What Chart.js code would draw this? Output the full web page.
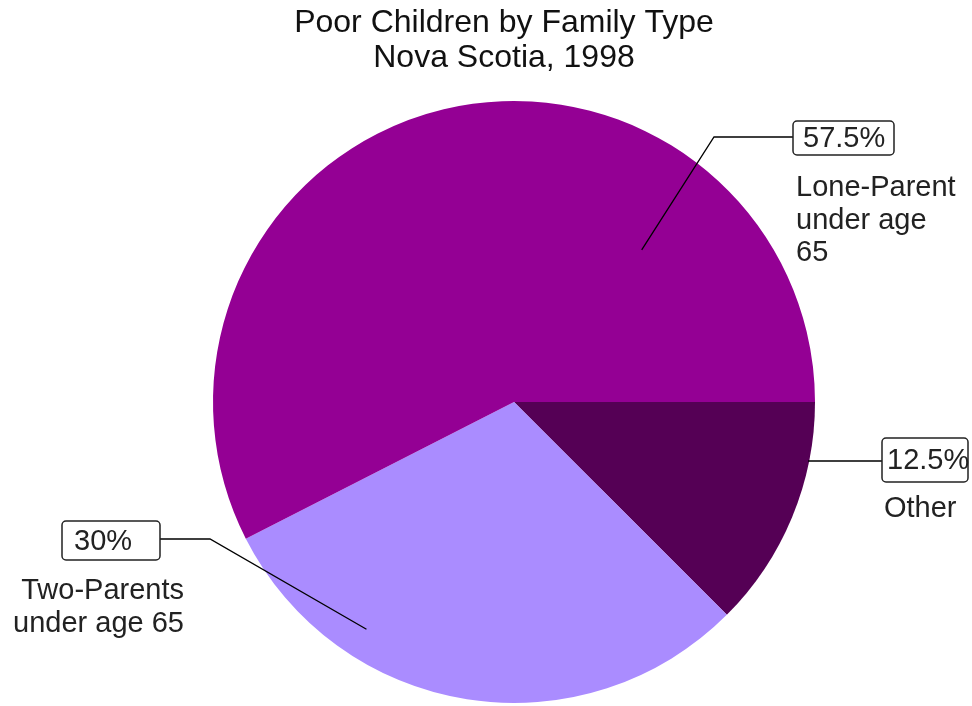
<!DOCTYPE html>
<html>
<head>
<meta charset="utf-8">
<script src="https://cdn.jsdelivr.net/npm/chart.js@4"></script>
<style>
  html, body { margin: 0; padding: 0; background: #fff; }
  #wrap { width: 972px; height: 706px; }
</style>
</head>
<body>
<div id="wrap"><canvas id="pie"></canvas></div>
<script>
// data (drawn clockwise from 3 o'clock)
const categories = ['Other', 'Two-Parents under age 65', 'Lone-Parent under age 65'];
const shares = [12.5, 30, 57.5];
const sliceColors = ['#550055', '#aa8cff', '#940094'];
const titleLines = ['Poor Children by Family Type', 'Nova Scotia, 1998'];

// where each callout sits (offsets from pie centre, px) and how its label wraps
const callouts = [
  { angle: 11.3, frac: 1.0, elbow: [294, 59], box: [368, 36, 86, 44], textX: 373,
    lines: ['Other'], lineX: 370, lineY: [106], align: 'left' },
  { angle: 123, frac: 0.9, elbow: [-304, 137], box: [-452, 119, 98, 39], textX: -440,
    lines: ['Two-Parents', 'under age 65'], lineX: -330, lineY: [188, 221], align: 'right' },
  { angle: -50, frac: 0.66, elbow: [200, -265], box: [279, -281, 101, 34], textX: 289,
    lines: ['Lone-Parent', 'under age', '65'], lineX: 282, lineY: [-215, -182, -150], align: 'left' }
];

const font = '"Liberation Sans", Arial, sans-serif';

const calloutPlugin = {
  id: 'callouts',
  afterDatasetsDraw(chart) {
    const ctx = chart.ctx;
    const arcs = chart.getDatasetMeta(0).data;
    ctx.save();
    callouts.forEach(function(c, i) {
      const arc = arcs[i];
      const cx = arc.x, cy = arc.y, r = arc.outerRadius;
      const a = c.angle * Math.PI / 180;
      const ax = cx + Math.cos(a) * r * c.frac;
      const ay = cy + Math.sin(a) * r * c.frac;
      const ex = cx + c.elbow[0], ey = cy + c.elbow[1];
      const bx = cx + c.box[0], by = cy + c.box[1], bw = c.box[2], bh = c.box[3];
      // leader line: slice -> elbow -> box
      const boxSide = c.box[0] > 0 ? bx : bx + bw;
      ctx.strokeStyle = '#000';
      ctx.lineWidth = 1.3;
      ctx.beginPath();
      ctx.moveTo(ax, ay);
      ctx.lineTo(ex, ey);
      ctx.lineTo(boxSide, ey);
      ctx.stroke();
      // rounded box with the percentage
      ctx.fillStyle = '#fff';
      ctx.strokeStyle = '#222';
      ctx.lineWidth = 1.5;
      ctx.beginPath();
      ctx.roundRect(bx, by, bw, bh, 4);
      ctx.fill();
      ctx.stroke();
      ctx.fillStyle = '#222';
      ctx.font = '29px ' + font;
      ctx.textBaseline = 'middle';
      ctx.textAlign = 'left';
      ctx.fillText(shares[i] + '%', cx + c.textX, by + bh / 2 + 1);
      // category label
      ctx.textAlign = c.align;
      c.lines.forEach(function(line, k) {
        ctx.fillText(line, cx + c.lineX, cy + c.lineY[k] + 1);
      });
    });
    // title sits a little left of the pie centre in the original
    ctx.fillStyle = '#111';
    ctx.font = '32px ' + font;
    ctx.textAlign = 'center';
    ctx.textBaseline = 'middle';
    titleLines.forEach(function(t, k) {
      ctx.fillText(t, chart.width / 2 + 18, 23 + k * 35);
    });
    ctx.restore();
  }
};

new Chart(document.getElementById('pie'), {
  type: 'pie',
  data: {
    labels: categories,
    datasets: [{
      data: shares,
      backgroundColor: sliceColors,
      borderWidth: 0,
      hoverOffset: 0
    }]
  },
  options: {
    responsive: true,
    maintainAspectRatio: false,
    animation: false,
    rotation: 90,
    layout: { padding: { left: 56, right: 0, top: 101, bottom: 3 } },
    plugins: {
      legend: { display: false },
      tooltip: { enabled: false },
      title: { display: false }
    }
  },
  plugins: [calloutPlugin]
});
</script>
</body>
</html>
